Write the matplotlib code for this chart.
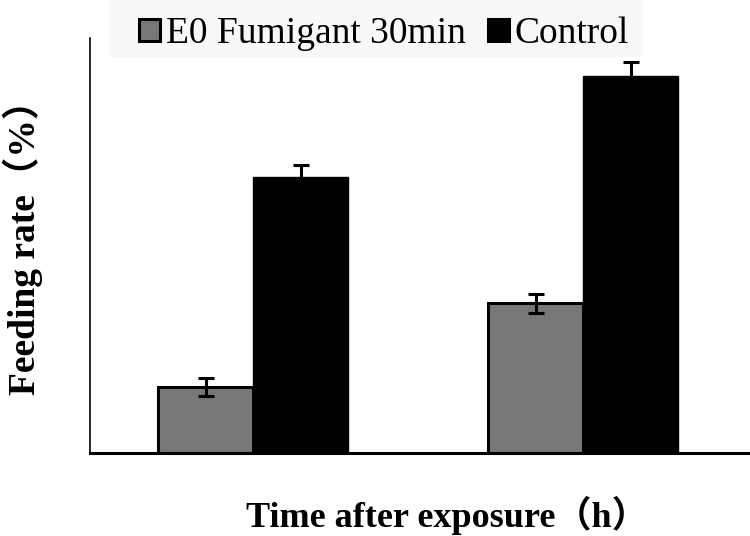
import matplotlib
matplotlib.use("Agg")
import matplotlib.pyplot as plt
import numpy as np
from matplotlib.patches import Patch, Rectangle

groups = ["1", "2"]
series_names = ["E0 Fumigant 30min", "Control"]
fumigant = [15.9, 36.1]
fumigant_err = [2.2, 2.3]
control = [66.5, 90.8]
control_err = [2.9, 3.4]

plt.rcParams['font.family'] = ['Liberation Serif', 'Noto Sans CJK SC', 'DejaVu Sans']

fig = plt.figure(figsize=(7.5, 5.36), dpi=100)

# faint legend background
fig.patches.append(Rectangle((109/750, 1 - 57/536), (642-109)/750, 57/536,
                             transform=fig.transFigure, facecolor='#f8f8f8',
                             edgecolor='none', zorder=0))

ax = fig.add_axes([90/750, (536-453)/536, 660/750, (453-38)/536])
ax.patch.set_alpha(0)

x = np.arange(len(groups))
w = 0.288
ax.bar(x - w/2, fumigant, w, color='#777777', edgecolor='black', linewidth=2.2, zorder=2)
ax.bar(x + w/2, control, w, color='black', edgecolor='black', linewidth=1, zorder=2)
ax.errorbar(x - w/2, fumigant, yerr=fumigant_err, fmt='none', ecolor='black',
            elinewidth=2.2, capsize=5.5, capthick=2.2, zorder=3)
ax.errorbar(x + w/2, control, yerr=control_err, fmt='none', ecolor='black',
            elinewidth=2.2, capsize=5.5, capthick=2.2, zorder=3)

ax.set_xlim(-0.494, 1.506)
ax.set_ylim(0, 100)
ax.set_xticks([])
ax.set_yticks([])
for s in ['top', 'right']:
    ax.spines[s].set_visible(False)
ax.spines['left'].set_linewidth(1.2)
ax.spines['bottom'].set_linewidth(2.2)

fig.text(23/750, 1 - 238/536, "Feeding rate（%）", rotation=90, ha='center', va='center',
         fontsize=27, fontweight='bold')
fig.text(447/750, 1 - 515/536, "Time after exposure（h）", ha='center', va='center',
         fontsize=26, fontweight='bold')

handles = [Patch(facecolor='#777777', edgecolor='black', linewidth=2.2),
           Patch(facecolor='black', edgecolor='black', linewidth=2.2)]
leg = fig.legend(handles, series_names, loc='center', bbox_to_anchor=(384/750, 1 - 34/536),
                 ncol=2, frameon=False, fontsize=27, handlelength=0.56, handleheight=0.56,
                 handletextpad=0.15, columnspacing=0.6, borderpad=0.1)

fig.savefig("out.png", dpi=100)
